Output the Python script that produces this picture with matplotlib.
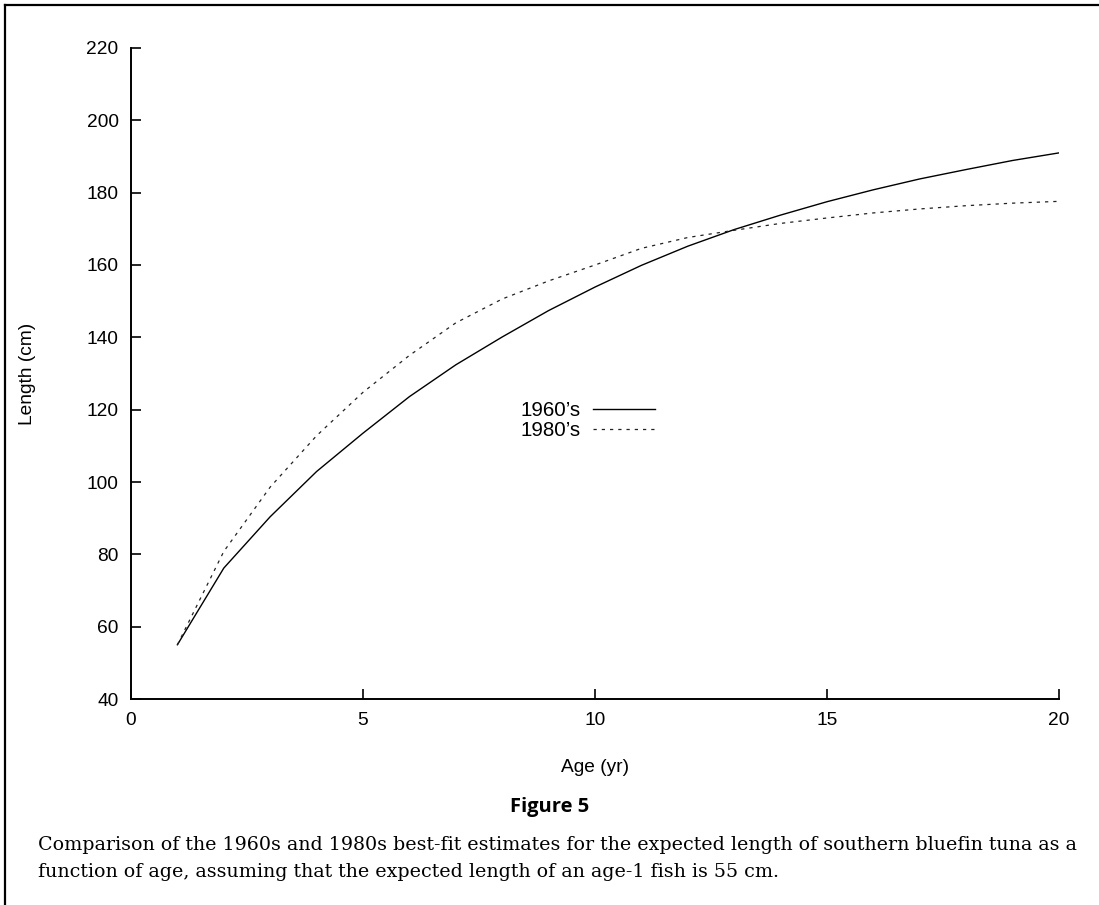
import matplotlib
matplotlib.use("Agg")
import matplotlib.pyplot as plt
from matplotlib.lines import Line2D

# ages and expected lengths
AGE = list(range(1, 21))
LEN_1960 = [55.0, 76.2, 90.4, 102.9, 113.5, 123.6, 132.4, 140.1, 147.4, 153.9,
            159.9, 165.2, 169.8, 173.8, 177.5, 180.8, 183.8, 186.4, 188.9, 191.0]
LEN_1980 = [55.0, 80.8, 98.6, 112.8, 124.8, 135.0, 144.0, 150.6, 155.6, 160.0,
            164.6, 167.6, 169.6, 171.5, 173.0, 174.4, 175.5, 176.4, 177.1, 177.6]
SERIES_LABELS = ["1960\u2019s", "1980\u2019s"]
XTICKS = [0, 5, 10, 15, 20]
YTICKS = list(range(40, 221, 20))

SANS = ["Liberation Sans", "DejaVu Sans"]
W, H = 1099, 905

fig = plt.figure(figsize=(W / 100, H / 100), dpi=100)
ax = fig.add_axes([131 / W, 1 - 699 / H, 928 / W, 651 / H])

dots = (0, (2.6, 4.0))
ax.plot(AGE, LEN_1960, color="black", lw=1.0)
ax.plot(AGE, LEN_1980, color="#222222", lw=0.9, ls=dots)

ax.set_xlim(0, 20)
ax.set_ylim(40, 220)
ax.set_xticks(XTICKS)
ax.set_yticks(YTICKS)
for s in ("top", "right"):
    ax.spines[s].set_visible(False)
for s in ("left", "bottom"):
    ax.spines[s].set_linewidth(1.4)
ax.tick_params(direction="in", length=7, width=1.2, pad=9, labelsize=13.8)
for lab in ax.get_xticklabels() + ax.get_yticklabels():
    lab.set_family(SANS)
ax.set_xlabel("Age (yr)", family=SANS, fontsize=13.8, labelpad=22)
ax.set_ylabel("Length (cm)", family=SANS, fontsize=13.8, labelpad=36)

handles = [Line2D([], [], color="black", lw=1.0),
           Line2D([], [], color="#222222", lw=0.9, ls=dots)]
ax.legend(handles, SERIES_LABELS, loc="center", bbox_to_anchor=(0.4925, 0.4275),
          frameon=False, markerfirst=False, handlelength=3.0, handletextpad=0.6,
          labelspacing=0.05, prop={"family": SANS, "size": 14.8})

# outer frame (only left and top edges are visible in the scan)
fig.add_artist(Line2D([5 / W, 5 / W], [0, 1 - 5 / H], color="black", lw=1.6,
                      transform=fig.transFigure))
fig.add_artist(Line2D([5 / W, 1], [1 - 5 / H, 1 - 5 / H], color="black", lw=1.6,
                      transform=fig.transFigure))

fig.text(550 / W, 1 - 807 / H, "Figure 5", ha="center", va="center",
         family=["Open Sans", "DejaVu Sans"], fontweight="bold", fontsize=14.5)
fig.text(38 / W, 1 - 850 / H,
         "Comparison of the 1960s and 1980s best-fit estimates for the expected "
         "length of southern bluefin tuna as a",
         ha="left", va="baseline", family=["DejaVu Serif"], fontsize=13.7)
fig.text(38 / W, 1 - 877 / H,
         "function of age, assuming that the expected length of an age-1 fish is 55 cm.",
         ha="left", va="baseline", family=["DejaVu Serif"], fontsize=13.7)

fig.savefig("out.png", dpi=100)
